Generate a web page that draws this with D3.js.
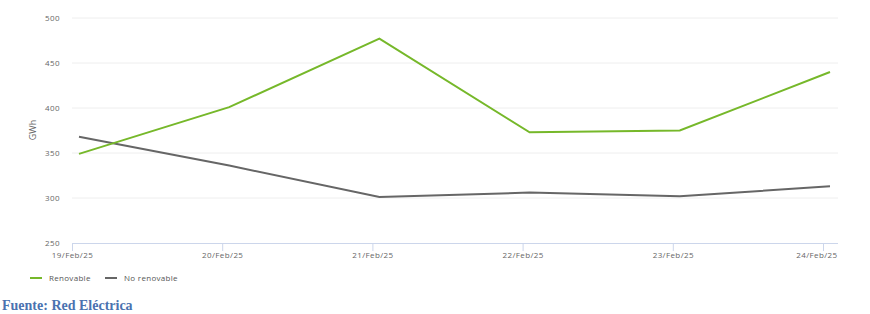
<!DOCTYPE html>
<html>
<head>
<meta charset="utf-8">
<script src="https://cdn.jsdelivr.net/npm/d3@7"></script>
<style>
  body { margin: 0; background: #fff; }
  .tick text { font-family: "Open Sans", sans-serif; font-size: 8px; fill: #666; letter-spacing: 0.4px; }
</style>
</head>
<body>
<div id="chart"></div>
<script>
// data
var days = ["19/Feb/25", "20/Feb/25", "21/Feb/25", "22/Feb/25", "23/Feb/25", "24/Feb/25"];
var renovable = [349, 401, 477, 373, 375, 440];
var noRenovable = [368, 336, 301, 306, 302, 313];
var yTicks = [250, 300, 350, 400, 450, 500];

var svgWidth = 870;
var svgHeight = 314;

var svg = d3.select("#chart")
  .append("svg")
  .attr("width", svgWidth)
  .attr("height", svgHeight);

// scales
var xScale = d3.scalePoint()
  .domain(days)
  .range([72, 823]);

var yScale = d3.scaleLinear()
  .domain([250, 500])
  .range([243, 18]);

// gridlines
svg.append("g")
  .selectAll("line")
  .data(yTicks.slice(1))
  .enter()
  .append("line")
  .attr("x1", 72)
  .attr("x2", 838)
  .attr("y1", d => yScale(d))
  .attr("y2", d => yScale(d))
  .attr("stroke", "#eeeeee")
  .attr("stroke-width", 1);

// y axis
var leftAxis = d3.axisLeft(yScale).tickValues(yTicks).tickSize(0).tickPadding(12);
var yAxis = svg.append("g")
  .attr("transform", "translate(72,0)")
  .call(leftAxis);
yAxis.select(".domain").remove();

// x axis
var bottomAxis = d3.axisBottom(xScale).tickSize(8).tickPadding(0);
var xAxis = svg.append("g")
  .attr("transform", "translate(0,243)")
  .call(bottomAxis);
xAxis.select(".domain")
  .attr("d", "M72,0.5H838")
  .attr("stroke", "#ccd6eb");
xAxis.selectAll(".tick line").attr("stroke", "#ccd6eb");
xAxis.selectAll(".tick text").attr("dy", "0.9em");
// last label pulled in so it stays inside the plot
xAxis.selectAll(".tick text")
  .filter(d => d === days[days.length - 1])
  .attr("text-anchor", "end")
  .attr("x", 14);

// y axis title
svg.append("text")
  .attr("transform", "translate(36,130) rotate(-90)")
  .attr("text-anchor", "middle")
  .style("font-family", "Open Sans, sans-serif")
  .style("font-size", "9px")
  .style("fill", "#666")
  .text("GWh");

// lines (points sit a few px right of the ticks)
var line = d3.line()
  .x((d, i) => xScale(days[i]))
  .y(d => yScale(d));

var lineGroup = svg.append("g").attr("transform", "translate(7,0)");

lineGroup.append("path")
  .datum(noRenovable)
  .attr("d", line)
  .attr("fill", "none")
  .attr("stroke", "#666666")
  .attr("stroke-width", 2);

lineGroup.append("path")
  .datum(renovable)
  .attr("d", line)
  .attr("fill", "none")
  .attr("stroke", "#76b82a")
  .attr("stroke-width", 2);

// legend
var legendItems = [
  { name: "Renovable", color: "#76b82a", x: 30 },
  { name: "No renovable", color: "#666666", x: 105 }
];
var legend = svg.append("g").attr("transform", "translate(0,278)");
legendItems.forEach(function(item) {
  legend.append("line")
    .attr("x1", item.x)
    .attr("x2", item.x + 12)
    .attr("stroke", item.color)
    .attr("stroke-width", 2);
  legend.append("text")
    .attr("x", item.x + 19)
    .attr("y", 3)
    .style("font-family", "Open Sans, sans-serif")
    .style("font-size", "8px")
    .style("fill", "#555")
    .style("letter-spacing", "0.3px")
    .text(item.name);
});

// source
svg.append("text")
  .attr("x", 2)
  .attr("y", 310)
  .style("font-family", "Liberation Serif, serif")
  .style("font-weight", "bold")
  .style("font-size", "14px")
  .style("fill", "#4a72b0")
  .text("Fuente: Red Eléctrica");
</script>
</body>
</html>
